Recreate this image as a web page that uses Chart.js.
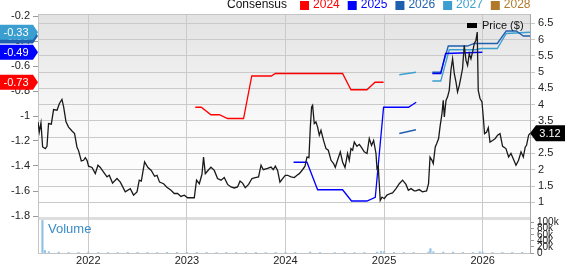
<!DOCTYPE html>
<html>
<head>
<meta charset="utf-8">
<script src="https://cdn.jsdelivr.net/npm/chart.js@4.4.1/dist/chart.umd.min.js"></script>
<style>
  html, body { margin: 0; padding: 0; background: #fff; }
  canvas { display: block; }
</style>
</head>
<body>
<canvas id="consensusChart" width="565" height="264"></canvas>
<script>
// year ticks along the bottom
const yearTicks = [2022, 2023, 2024, 2025, 2026];
const epsTicks = [-0.2, -0.4, -0.6, -0.8, -1, -1.2, -1.4, -1.6, -1.8];
const priceTicks = [1, 1.5, 2, 2.5, 3, 3.5, 4, 4.5, 5, 5.5, 6, 6.5];
const volumeTicks = [0, 20000, 40000, 60000, 80000, 100000];

const consensusYears = ['2024', '2025', '2026', '2027', '2028'];
const consensusColors = ['#ff0000', '#0000ff', '#1f5fb0', '#3a9fd0', '#b07a2a'];

// price ($), right axis
const priceYears = [
  2021.490, 2021.503, 2021.520, 2021.537, 2021.564, 2021.581, 2021.597, 2021.625, 2021.648, 2021.683,
  2021.706, 2021.733, 2021.750, 2021.774, 2021.800, 2021.835, 2021.861, 2021.885, 2021.902, 2021.929,
  2021.952, 2021.970, 2021.987, 2022.003, 2022.038, 2022.071, 2022.098, 2022.122, 2022.155, 2022.190,
  2022.213, 2022.246, 2022.291, 2022.325, 2022.375, 2022.426, 2022.459, 2022.494, 2022.517, 2022.538,
  2022.571, 2022.605, 2022.639, 2022.672, 2022.697, 2022.723, 2022.764, 2022.794, 2022.839, 2022.872,
  2022.906, 2022.940, 2022.974, 2023.007, 2023.075, 2023.098, 2023.126, 2023.153, 2023.169, 2023.187,
  2023.210, 2023.244, 2023.278, 2023.311, 2023.346, 2023.379, 2023.413, 2023.447, 2023.481, 2023.514,
  2023.539, 2023.565, 2023.592, 2023.626, 2023.660, 2023.694, 2023.727, 2023.752, 2023.775, 2023.818,
  2023.853, 2023.876, 2023.897, 2023.920, 2023.944, 2023.971, 2023.998, 2024.021, 2024.056, 2024.089,
  2024.117, 2024.140, 2024.173, 2024.198, 2024.218, 2024.238, 2024.252, 2024.265, 2024.275, 2024.292,
  2024.309, 2024.326, 2024.343, 2024.360, 2024.386, 2024.411, 2024.434, 2024.462, 2024.488, 2024.505,
  2024.528, 2024.556, 2024.579, 2024.604, 2024.630, 2024.647, 2024.664, 2024.681, 2024.698, 2024.725,
  2024.749, 2024.772, 2024.799, 2024.827, 2024.850, 2024.873, 2024.894, 2024.918, 2024.928, 2024.941,
  2024.961, 2024.979, 2025.002, 2025.029, 2025.063, 2025.086, 2025.121, 2025.154, 2025.188, 2025.222,
  2025.246, 2025.273, 2025.306, 2025.323, 2025.356, 2025.390, 2025.431, 2025.451, 2025.466, 2025.486,
  2025.499, 2025.519, 2025.533, 2025.553, 2025.567, 2025.587, 2025.600, 2025.611, 2025.628, 2025.644,
  2025.661, 2025.678, 2025.695, 2025.712, 2025.729, 2025.745, 2025.763, 2025.780, 2025.796, 2025.813,
  2025.831, 2025.847, 2025.864, 2025.881, 2025.898, 2025.915, 2025.932, 2025.945, 2025.955, 2025.973,
  2025.993, 2026.006, 2026.019, 2026.040, 2026.057, 2026.074, 2026.100, 2026.128, 2026.151, 2026.176,
  2026.202, 2026.236, 2026.263, 2026.287, 2026.310, 2026.338, 2026.364, 2026.389, 2026.412, 2026.432,
  2026.445, 2026.466, 2026.480
];
const priceValues = [
  3.47, 3.16, 3.44, 2.70, 2.65, 2.72, 3.42, 3.40, 3.85, 3.83,
  4.03, 4.16, 3.93, 3.47, 3.31, 3.19, 3.11, 2.70, 2.58, 2.27,
  2.29, 2.37, 2.29, 2.11, 2.07, 1.88, 2.14, 2.07, 1.93, 1.78,
  1.83, 1.59, 1.73, 1.62, 1.32, 1.42, 1.22, 1.32, 1.68, 1.65,
  2.24, 2.07, 1.98, 1.80, 1.83, 1.62, 1.57, 1.47, 1.37, 1.27,
  1.27, 1.18, 1.22, 1.14, 1.14, 1.68, 1.57, 1.86, 2.39, 1.88,
  1.96, 2.08, 1.98, 1.73, 1.68, 1.76, 1.55, 1.47, 1.44, 1.47,
  1.65, 1.59, 1.45, 1.55, 1.73, 1.76, 1.78, 2.14, 2.00, 2.04,
  2.08, 2.00, 2.11, 1.98, 1.62, 1.73, 1.83, 1.83, 1.78, 1.76,
  1.83, 1.88, 2.00, 2.11, 2.39, 2.37, 3.31, 3.93, 3.98, 3.42,
  3.47, 3.31, 3.06, 3.21, 2.90, 2.65, 2.60, 2.29, 2.19, 2.07,
  2.29, 2.55, 2.24, 2.07, 2.50, 2.29, 2.65, 2.60, 2.85, 2.72,
  2.78, 2.68, 2.55, 2.50, 2.96, 2.75, 2.90, 2.50, 2.04, 2.11,
  1.06, 1.16, 1.11, 1.22, 1.27, 1.29, 1.42, 1.57, 1.68, 1.55,
  1.37, 1.42, 1.35, 1.35, 1.39, 1.32, 1.35, 1.57, 2.39, 2.29,
  2.19, 2.70, 2.80, 2.96, 3.31, 3.72, 4.13, 3.62, 4.13, 4.24,
  4.44, 5.06, 5.41, 4.95, 4.70, 4.39, 4.59, 4.85, 5.11, 5.82,
  5.36, 5.21, 5.57, 5.41, 5.62, 5.88, 5.98, 6.23, 4.44, 4.19,
  4.08, 3.62, 3.11, 3.16, 3.29, 2.85, 2.90, 2.96, 3.06, 3.11,
  2.72, 2.65, 2.39, 2.50, 2.34, 2.14, 2.29, 2.55, 2.39, 2.70,
  2.75, 3.06, 3.12
];

// consensus EPS estimates, left axis (null = break in the line)
const cons2024Years = [2023.085, 2023.146, 2023.244, 2023.329, 2023.413, 2023.575, 2023.658, 2023.856, 2023.897, 2024.579, 2024.664, 2024.826, 2024.908, 2024.995];
const cons2024Values = [-0.93, -0.93, -0.99, -0.99, -1.02, -1.02, -0.68, -0.68, -0.66, -0.66, -0.79, -0.79, -0.73, -0.73];

const cons2025Years = [2024.082, 2024.218, 2024.326, 2024.579, 2024.670, 2024.826, 2024.911, 2024.995, 2025.248, 2025.326, 2025.400, 2025.489, 2025.575, 2025.624, 2025.996];
const cons2025Values = [-1.37, -1.37, -1.59, -1.59, -1.68, -1.68, -1.65, -0.93, -0.93, -0.89, null, -0.66, -0.66, -0.50, -0.49];

const cons2026Years = [2025.154, 2025.323, 2025.400, 2025.489, 2025.575, 2025.651, 2025.844, 2025.915, 2026.148, 2026.239, 2026.341, 2026.412, 2026.480];
const cons2026Values = [-1.14, -1.11, null, -0.65, -0.65, -0.44, -0.44, -0.42, -0.42, -0.32, -0.32, -0.36, -0.36];

const cons2027Years = [2025.154, 2025.323, 2025.400, 2025.489, 2025.575, 2025.661, 2025.925, 2025.986, 2026.148, 2026.239, 2026.480];
const cons2027Values = [-0.67, -0.65, null, -0.72, -0.72, -0.47, -0.47, -0.46, -0.46, -0.34, -0.33];

// volume
const volYears = [
  2021.535, 2021.56, 2021.60, 2021.70, 2021.80, 2021.90, 2022.00, 2022.10, 2022.20, 2022.30,
  2022.40, 2022.50, 2022.60, 2022.70, 2022.80, 2022.90, 2023.00, 2023.10, 2023.20, 2023.30,
  2023.40, 2023.50, 2023.60, 2023.70, 2023.80, 2023.90, 2024.00, 2024.10, 2024.25, 2024.35,
  2024.50, 2024.60, 2024.70, 2024.80, 2024.93, 2024.97, 2025.00, 2025.10, 2025.20, 2025.30,
  2025.45, 2025.47, 2025.50, 2025.60, 2025.70, 2025.80, 2025.90, 2025.97, 2026.00, 2026.10,
  2026.20, 2026.30, 2026.40
];
const volValues = [
  105000, 8000, 4000, 3000, 2000, 2000, 2000, 1500, 1500, 1500,
  1000, 1000, 2000, 1500, 1000, 1000, 1000, 2000, 2000, 1500,
  1000, 1000, 1500, 1000, 1500, 1000, 1500, 1000, 3000, 2000,
  1500, 1500, 1500, 2000, 3000, 5000, 4000, 2000, 2000, 2000,
  3000, 14000, 4000, 3000, 3000, 2000, 2000, 4000, 3000, 2000,
  2000, 2000, 2000
];

function points(xs, ys) {
  return xs.map((x, i) => ({ x: x, y: ys[i] }));
}
function lastValue(arr) {
  for (let i = arr.length - 1; i >= 0; i--) if (arr[i] !== null) return arr[i];
  return null;
}

const FONT = '"Liberation Sans", Arial, sans-serif';

function leftTag(ctx, y, color, text) {
  ctx.fillStyle = color;
  ctx.beginPath();
  ctx.moveTo(0, y - 7.5);
  ctx.lineTo(33, y - 7.5);
  ctx.lineTo(38, y);
  ctx.lineTo(33, y + 7.5);
  ctx.lineTo(0, y + 7.5);
  ctx.closePath();
  ctx.fill();
  ctx.fillStyle = '#fff';
  ctx.font = '11px ' + FONT;
  ctx.textAlign = 'center';
  ctx.textBaseline = 'middle';
  ctx.fillText(text, 16, y + 0.5);
}

const decor = {
  id: 'decor',
  beforeDraw(chart) {
    const { ctx, chartArea: a } = chart;
    const sep = a.bottom - 36;
    ctx.save();
    ctx.fillStyle = '#fff';
    ctx.fillRect(0, 0, chart.width, chart.height);
    const g = ctx.createLinearGradient(0, a.top, 0, sep);
    g.addColorStop(0, '#e2e2e2');
    g.addColorStop(0.55, '#fafafa');
    g.addColorStop(1, '#ffffff');
    ctx.fillStyle = g;
    ctx.fillRect(a.left, a.top, a.right - a.left, sep - a.top);
    ctx.fillStyle = '#dedede';
    ctx.fillRect(a.left, sep, a.right - a.left, 3);
    ctx.restore();
  },
  afterDraw(chart) {
    const { ctx, chartArea: a } = chart;
    ctx.save();
    // frame top
    ctx.strokeStyle = '#c4c4c4';
    ctx.lineWidth = 1;
    ctx.beginPath();
    ctx.moveTo(a.left, a.top + 0.5);
    ctx.lineTo(a.right, a.top + 0.5);
    ctx.stroke();

    // Volume label
    ctx.fillStyle = '#3a8cc8';
    ctx.font = '13px ' + FONT;
    ctx.textAlign = 'left';
    ctx.textBaseline = 'middle';
    ctx.fillText('Volume', a.left + 10, a.bottom - 24);

    // volume tick labels (the volume axis has no width of its own)
    const yv = chart.scales.yVol;
    ctx.fillStyle = '#222';
    ctx.font = '10px ' + FONT;
    volumeTicks.forEach(v => {
      ctx.fillText(v === 0 ? '0' : (v / 1000) + 'k', a.right + 7, yv.getPixelForValue(v) + 0.5);
    });

    // consensus legend
    ctx.font = '12px ' + FONT;
    ctx.textBaseline = 'middle';
    ctx.fillStyle = '#111';
    let lx = 227;
    ctx.fillText('Consensus', lx, 5);
    lx += ctx.measureText('Consensus').width + 13;
    consensusYears.forEach((yr, i) => {
      ctx.fillStyle = consensusColors[i];
      ctx.fillRect(lx, 1, 9, 9);
      lx += 13;
      ctx.fillText(yr, lx, 5);
      lx += ctx.measureText(yr).width + 8;
    });

    // price legend
    ctx.fillStyle = '#000';
    ctx.fillRect(467, 23, 10, 5);
    ctx.font = '11px ' + FONT;
    ctx.fillStyle = '#111';
    ctx.fillText('Price ($)', 482, 26);

    // left tags (last consensus values)
    const ys = chart.scales.yEps;
    leftTag(ctx, ys.getPixelForValue(lastValue(cons2026Values)), consensusColors[2], lastValue(cons2026Values).toFixed(2));
    leftTag(ctx, ys.getPixelForValue(lastValue(cons2027Values)), consensusColors[3], lastValue(cons2027Values).toFixed(2));
    leftTag(ctx, ys.getPixelForValue(lastValue(cons2025Values)), consensusColors[1], lastValue(cons2025Values).toFixed(2));
    leftTag(ctx, ys.getPixelForValue(lastValue(cons2024Values)), consensusColors[0], lastValue(cons2024Values).toFixed(2));

    // right tag (last price)
    const lastPrice = priceValues[priceValues.length - 1];
    const py = chart.scales.yPrice.getPixelForValue(lastPrice);
    ctx.fillStyle = '#000';
    ctx.beginPath();
    ctx.moveTo(a.right, py);
    ctx.lineTo(a.right + 6, py - 8);
    ctx.lineTo(chart.width, py - 8);
    ctx.lineTo(chart.width, py + 8);
    ctx.lineTo(a.right + 6, py + 8);
    ctx.closePath();
    ctx.fill();
    ctx.fillStyle = '#fff';
    ctx.font = '11px ' + FONT;
    ctx.textAlign = 'center';
    ctx.fillText(lastPrice.toFixed(2), a.right + 20, py + 0.5);
    ctx.restore();
  }
};

const lineStyle = { pointRadius: 0, pointHoverRadius: 0, borderWidth: 1.3, spanGaps: false, tension: 0 };

const ctx = document.getElementById('consensusChart').getContext('2d');
const chart = new Chart(ctx, {
  type: 'line',
  data: {
    datasets: [
      Object.assign({ label: 'Price ($)', data: points(priceYears, priceValues), borderColor: '#1a1a1a', yAxisID: 'yPrice', order: 1 }, lineStyle),
      Object.assign({ label: '2024', data: points(cons2024Years, cons2024Values), borderColor: consensusColors[0], yAxisID: 'yEps', order: 2 }, lineStyle),
      Object.assign({ label: '2025', data: points(cons2025Years, cons2025Values), borderColor: consensusColors[1], yAxisID: 'yEps', order: 2 }, lineStyle),
      Object.assign({ label: '2026', data: points(cons2026Years, cons2026Values), borderColor: consensusColors[2], yAxisID: 'yEps', order: 3 }, lineStyle),
      Object.assign({ label: '2027', data: points(cons2027Years, cons2027Values), borderColor: consensusColors[3], yAxisID: 'yEps', order: 3 }, lineStyle),
      {
        type: 'bar',
        label: 'Volume',
        data: points(volYears, volValues),
        backgroundColor: '#8fc0e6',
        barThickness: 1.5,
        yAxisID: 'yVol',
        order: 5
      }
    ]
  },
  options: {
    responsive: false,
    animation: false,
    events: [],
    layout: { padding: { top: 14, left: 0, right: 0, bottom: 0 } },
    plugins: {
      legend: { display: false },
      tooltip: { enabled: false }
    },
    scales: {
      x: {
        type: 'linear',
        min: 2021.49,
        max: 2026.48,
        offset: false,
        afterBuildTicks: s => { s.ticks = yearTicks.map(v => ({ value: v })); },
        afterFit: s => { s.height = 11; },
        grid: { color: '#cacaca', drawTicks: false, offset: false },
        border: { display: true, color: '#c4c4c4' },
        ticks: { padding: 1, autoSkip: false, maxRotation: 0, color: '#222', font: { family: FONT, size: 11 }, callback: v => String(v) }
      },
      yEps: {
        type: 'linear',
        position: 'left',
        min: -2.096,
        max: -0.184,
        afterBuildTicks: s => { s.ticks = epsTicks.map(v => ({ value: v })); },
        afterFit: s => { s.width = 38; },
        grid: { drawOnChartArea: false, tickLength: 5, color: '#9a9a9a' },
        border: { display: true, color: '#c4c4c4' },
        ticks: { padding: 3, autoSkip: false, color: '#222', font: { family: FONT, size: 11 }, callback: v => String(v) }
      },
      yVol: {
        type: 'linear',
        position: 'right',
        weight: 0,
        min: 0,
        max: 771000,
        afterBuildTicks: s => { s.ticks = volumeTicks.map(v => ({ value: v })); },
        afterFit: s => { s.width = 0; },
        grid: { drawOnChartArea: false, tickLength: 4, color: '#9a9a9a' },
        border: { display: true, color: '#a8a8a8' },
        ticks: { display: false }
      },
      yPrice: {
        type: 'linear',
        position: 'right',
        weight: 1,
        min: -0.558,
        max: 6.785,
        afterBuildTicks: s => { s.ticks = priceTicks.map(v => ({ value: v })); },
        afterFit: s => { s.width = 35; },
        grid: { color: '#cacaca', tickLength: 5 },
        border: { display: true, color: '#a8a8a8' },
        ticks: { padding: 3, autoSkip: false, color: '#222', font: { family: FONT, size: 11 }, callback: v => String(v) }
      }
    }
  },
  plugins: [decor]
});
</script>
</body>
</html>
